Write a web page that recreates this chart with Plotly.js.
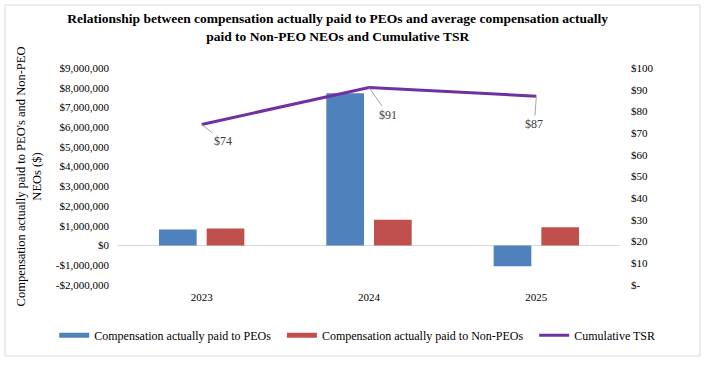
<!DOCTYPE html>
<html>
<head>
<meta charset="utf-8">
<script src="https://cdn.plot.ly/plotly-3.0.1.min.js"></script>
<style>
  html, body { margin: 0; padding: 0; background: #ffffff; }
  #chart { width: 708px; height: 384px; }
</style>
</head>
<body>
<div id="chart"></div>
<script>
const years = ["2023", "2024", "2025"];
const peoComp = [810000, 7720000, -1050000];
const nonPeoComp = [870000, 1310000, 930000];
const tsr = [74, 91, 87];

const leftTickVals = [-2000000, -1000000, 0, 1000000, 2000000, 3000000, 4000000, 5000000, 6000000, 7000000, 8000000, 9000000];
const leftTickText = ["-$2,000,000", "-$1,000,000", "$0", "$1,000,000", "$2,000,000", "$3,000,000", "$4,000,000", "$5,000,000", "$6,000,000", "$7,000,000", "$8,000,000", "$9,000,000"];
const rightTickVals = [0, 10, 20, 30, 40, 50, 60, 70, 80, 90, 100];
const rightTickText = ["$-", "$10", "$20", "$30", "$40", "$50", "$60", "$70", "$80", "$90", "$100"];

const seriesNames = ["Compensation actually paid to PEOs", "Compensation actually paid to Non-PEOs", "Cumulative TSR"];
const titleText = "Relationship between compensation actually paid to PEOs and average compensation actually<br>paid to Non-PEO NEOs and Cumulative TSR";
const yTitleText = "Compensation actually paid to PEO's and Non-PEO<br>NEOs ($)";

const BLUE = "#4f81bd", RED = "#c0504d", PURPLE = "#7030a0";
const FONT = "Liberation Serif";
const noValues = years.map(() => null);
const PAD = "\u00a0\u00a0";

const traces = [
  { type: "bar", x: years, y: peoComp, name: seriesNames[0], marker: { color: BLUE }, showlegend: false, yaxis: "y", hoverinfo: "skip" },
  { type: "bar", x: years, y: nonPeoComp, name: seriesNames[1], marker: { color: RED }, showlegend: false, yaxis: "y", hoverinfo: "skip" },
  { type: "scatter", mode: "lines", x: years, y: tsr, name: seriesNames[2], yaxis: "y2", line: { color: PURPLE, width: 3 }, showlegend: false, hoverinfo: "skip" },
  // legend-only entries (draw nothing: all values null)
  { type: "scatter", mode: "lines", x: years, y: noValues, name: seriesNames[0] + PAD, line: { color: BLUE, width: 5 }, yaxis: "y2", hoverinfo: "skip" },
  { type: "scatter", mode: "lines", x: years, y: noValues, name: seriesNames[1] + PAD, line: { color: RED, width: 5 }, yaxis: "y2", hoverinfo: "skip" },
  { type: "scatter", mode: "lines", x: years, y: noValues, name: seriesNames[2], line: { color: PURPLE, width: 3 }, yaxis: "y2", hoverinfo: "skip" }
];

const tsrOffsets = [[21, 17], [19, 27], [-2, 28]];
const annotations = years.map((yr, i) => ({
  x: i, y: tsr[i], xref: "x", yref: "y2",
  text: "$" + tsr[i],
  showarrow: true, arrowhead: 0, arrowwidth: 1, arrowcolor: "#a6a6a6",
  ax: tsrOffsets[i][0], ay: tsrOffsets[i][1],
  font: { family: FONT, size: 12, color: "#404040" }
}));

const layout = {
  width: 708, height: 384,
  margin: { l: 118, r: 88, t: 68, b: 99 },
  paper_bgcolor: "#ffffff", plot_bgcolor: "#ffffff",
  font: { family: FONT, size: 11, color: "#000000" },
  title: {
    text: "<b>" + titleText + "</b>",
    font: { family: FONT, size: 13.5, color: "#000000" },
    xref: "container", x: 0.477, xanchor: "center",
    yref: "container", y: 0.94, yanchor: "top"
  },
  barmode: "group", bargap: 0.43, bargroupgap: 0.21,
  xaxis: {
    type: "category", categoryorder: "array", categoryarray: years, range: [-0.5, 2.5],
    showgrid: false, zeroline: false, showline: false, ticks: "",
    tickfont: { family: FONT, size: 11, color: "#000000" }, ticklabelstandoff: 4
  },
  yaxis: {
    range: [-2000000, 9000000], tickvals: leftTickVals, ticktext: leftTickText,
    showgrid: false, zeroline: true, zerolinecolor: "#d9d9d9", zerolinewidth: 1,
    showline: false, ticks: "", tickfont: { family: FONT, size: 11, color: "#000000" },
    ticklabelstandoff: 8, automargin: false,
    title: { text: yTitleText, font: { family: FONT, size: 12.5, color: "#000000" }, standoff: 11 }
  },
  yaxis2: {
    range: [0, 100], tickvals: rightTickVals, ticktext: rightTickText,
    overlaying: "y", side: "right", showgrid: false, zeroline: false, showline: false, ticks: "",
    tickfont: { family: FONT, size: 11, color: "#000000" }, ticklabelstandoff: 10, automargin: false
  },
  legend: {
    orientation: "h", x: -0.127, xanchor: "left", y: -0.231, yanchor: "middle",
    font: { family: FONT, size: 12, color: "#000000" }, bgcolor: "rgba(0,0,0,0)"
  },
  annotations: annotations,
  shapes: [{
    type: "rect", xref: "paper", yref: "paper",
    x0: (5 - 118) / 502, x1: (700 - 118) / 502,
    y0: (285 - 356) / 217, y1: (285 - 5) / 217,
    line: { color: "#d9d9d9", width: 1 }, fillcolor: "rgba(0,0,0,0)", layer: "below"
  }]
};

Plotly.newPlot("chart", traces, layout, { displayModeBar: false, staticPlot: true });
</script>
</body>
</html>
